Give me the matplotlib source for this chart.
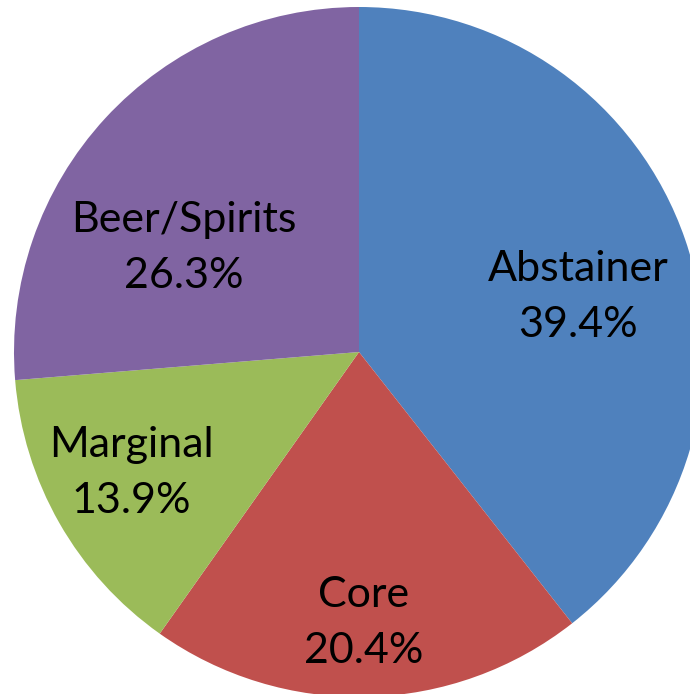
import matplotlib
matplotlib.use("Agg")
import matplotlib.pyplot as plt

categories = ["Abstainer", "Core", "Marginal", "Beer/Spirits"]
values = [39.4, 20.4, 13.9, 26.3]
colors = ["#4F81BD", "#C0504D", "#9BBB59", "#8064A2"]

W, H = 690, 694
fig = plt.figure(figsize=(W / 100, H / 100), dpi=100)
ax = fig.add_axes([0, 0, 1, 1])
cx, cy, r = 359, H - 352, 345
ax.pie(values, colors=colors, startangle=90, counterclock=False,
       center=(cx, cy), radius=r, wedgeprops=dict(linewidth=0))
ax.set_xlim(0, W)
ax.set_ylim(0, H)
ax.set_aspect("equal")
ax.axis("off")

label_pos = [(578, 297), (364, 623), (131, 473), (184, 248)]
for name, v, (x, y) in zip(categories, values, label_pos):
    ax.text(x, H - y, f"{name}\n{v:.1f}%", ha="center", va="center",
            fontsize=31, family="Lato", linespacing=1.55, color="black")

fig.savefig("out.png", dpi=100)
